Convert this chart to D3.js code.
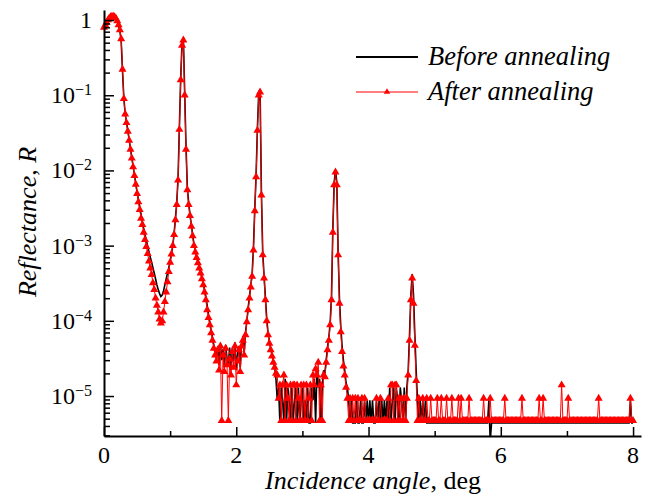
<!DOCTYPE html>
<html>
<head>
<meta charset="utf-8">
<script src="https://cdn.jsdelivr.net/npm/d3@7"></script>
<style>
  body { margin: 0; background: #fff; }
  svg { font-family: "Liberation Serif", "Times New Roman", serif; }
</style>
</head>
<body>
<div id="chart"></div>
<script>
/* incidence angle grid, deg */
const angleStep = 0.02;

/* reflectance before annealing, one value per grid step (0 .. 8 deg) */
const beforeR = [
  1.0, 0.98, 1.0, 1.03, 1.06, 1.09, 1.1, 1.1, 1.08, 1.04,
  0.97, 0.86, 0.72, 0.52, 0.21, 0.092, 0.057, 0.044, 0.034, 0.026,
  0.0195, 0.015, 0.0115, 0.0088, 0.0068, 0.0052, 0.0041, 0.0033, 0.0026, 0.0021,
  1.7e-3, 1.4e-3, 1.18e-3, 9.8e-4, 8.3e-4, 7.0e-4, 6.0e-4, 5.1e-4, 4.3e-4, 3.6e-4,
  3.0e-4, 2.6e-4, 2.3e-4, 2.1e-4, 2.2e-4, 2.5e-4, 3.0e-4, 3.6e-4, 4.3e-4, 5.1e-4,
  6.2e-4, 7.8e-4, 1.0e-3, 1.45e-3, 2.3e-3, 3.7e-3, 8.0e-3, 0.038, 0.17, 0.5,
  0.58, 0.11, 0.021, 6.0e-3, 3.7e-3, 2.6e-3, 1.9e-3, 1.4e-3, 1.05e-3, 8.6e-4,
  7.2e-4, 6.1e-4, 5.2e-4, 4.5e-4, 3.8e-4, 3.2e-4, 2.6e-4, 2.1e-4, 1.6e-4, 1.2e-4,
  9.5e-5, 7.5e-5, 6.0e-5, 4.8e-5, 3.8e-5, 3.3e-5, 4.5e-5, 2.6e-5, 5.0e-5, 3.0e-5,
  4.2e-5, 2.4e-5, 4.8e-5, 3.2e-5, 2.6e-5, 4.4e-5, 2.2e-5, 4.0e-5, 2.9e-5, 5.2e-5,
  2.2e-5, 3.6e-5, 4.6e-5, 2.4e-5, 5.0e-5, 6.0e-5, 3.8e-5, 7.0e-5, 1.0e-4, 1.5e-4,
  2.1e-4, 3.0e-4, 4.2e-4, 9.5e-4, 3.1e-3, 8.8e-3, 0.037, 0.11, 0.12, 5.2e-3,
  8.2e-4, 4.0e-4, 2.1e-4, 1.1e-4, 7.0e-5, 5.4e-5, 4.4e-5, 3.6e-5, 3.0e-5, 2.5e-5,
  1.7e-5, 8.8e-6, 1.3e-5, 4.4e-6, 1.3e-5, 8.8e-6, 4.4e-6, 1.7e-5, 4.4e-6, 1.3e-5,
  8.8e-6, 4.4e-6, 1.3e-5, 4.4e-6, 8.8e-6, 1.3e-5, 4.4e-6, 1.3e-5, 4.4e-6, 8.8e-6,
  1.3e-5, 4.4e-6, 8.8e-6, 4.4e-6, 1.3e-5, 4.4e-6, 4.4e-6, 1.3e-5, 8.8e-6, 1.7e-5,
  4.4e-6, 2.2e-5, 1.3e-5, 1.7e-5, 4.4e-6, 1.3e-5, 2.2e-5, 2.0e-5, 3.0e-5, 4.4e-5,
  6.0e-5, 9.5e-5, 2.1e-4, 1.6e-3, 6.8e-3, 0.0102, 7.0e-3, 8.5e-4, 2.0e-4, 8.5e-5,
  4.6e-5, 3.0e-5, 2.2e-5, 1.5e-5, 1.3e-5, 8.8e-6, 4.4e-6, 8.8e-6, 4.4e-6, 4.4e-6,
  4.4e-6, 8.8e-6, 4.4e-6, 4.4e-6, 8.8e-6, 4.4e-6, 4.4e-6, 8.8e-6, 4.4e-6, 8.8e-6,
  4.4e-6, 8.8e-6, 4.4e-6, 8.8e-6, 4.4e-6, 4.4e-6, 8.8e-6, 4.4e-6, 8.8e-6, 4.4e-6,
  8.8e-6, 4.4e-6, 8.8e-6, 4.4e-6, 8.8e-6, 4.4e-6, 1.3e-5, 4.4e-6, 8.8e-6, 1.3e-5,
  4.4e-6, 1.3e-5, 8.8e-6, 4.4e-6, 1.3e-5, 8.8e-6, 4.4e-6, 1.3e-5, 4.4e-6, 1.3e-5,
  2.2e-5, 6.5e-5, 2.2e-4, 4.2e-4, 2.2e-4, 6.5e-5, 2.2e-5, 8.8e-6, 4.4e-6, 8.8e-6,
  4.4e-6, 8.8e-6, 4.4e-6, 8.8e-6, 4.4e-6, 4.4e-6, 4.4e-6, 4.4e-6, 4.4e-6, 4.4e-6,
  4.4e-6, 4.4e-6, 4.4e-6, 4.4e-6, 4.4e-6, 4.4e-6, 4.4e-6, 4.4e-6, 4.4e-6, 4.4e-6,
  4.4e-6, 4.4e-6, 4.4e-6, 4.4e-6, 4.4e-6, 4.4e-6, 4.4e-6, 4.4e-6, 4.4e-6, 4.4e-6,
  4.4e-6, 4.4e-6, 4.4e-6, 4.4e-6, 4.4e-6, 4.4e-6, 4.4e-6, 4.4e-6, 4.4e-6, 4.4e-6,
  4.4e-6, 4.4e-6, 4.4e-6, 4.4e-6, 4.4e-6, 4.4e-6, 4.4e-6, 4.4e-6, 4.4e-6, 4.4e-6,
  4.4e-6, 8.8e-6, 2.5e-6, 4.4e-6, 4.4e-6, 4.4e-6, 4.4e-6, 4.4e-6, 4.4e-6, 4.4e-6,
  4.4e-6, 4.4e-6, 4.4e-6, 4.4e-6, 4.4e-6, 4.4e-6, 4.4e-6, 4.4e-6, 4.4e-6, 4.4e-6,
  4.4e-6, 4.4e-6, 4.4e-6, 4.4e-6, 4.4e-6, 4.4e-6, 4.4e-6, 4.4e-6, 4.4e-6, 4.4e-6,
  4.4e-6, 4.4e-6, 4.4e-6, 4.4e-6, 4.4e-6, 4.4e-6, 4.4e-6, 4.4e-6, 4.4e-6, 4.4e-6,
  4.4e-6, 4.4e-6, 4.4e-6, 4.4e-6, 4.4e-6, 4.4e-6, 4.4e-6, 4.4e-6, 4.4e-6, 4.4e-6,
  4.4e-6, 4.4e-6, 4.4e-6, 4.4e-6, 4.4e-6, 4.4e-6, 4.4e-6, 4.4e-6, 4.4e-6, 4.4e-6,
  4.4e-6, 4.4e-6, 4.4e-6, 4.4e-6, 4.4e-6, 4.4e-6, 4.4e-6, 4.4e-6, 4.4e-6, 4.4e-6,
  4.4e-6, 4.4e-6, 4.4e-6, 4.4e-6, 4.4e-6, 4.4e-6, 4.4e-6, 4.4e-6, 4.4e-6, 4.4e-6,
  4.4e-6, 4.4e-6, 4.4e-6, 4.4e-6, 4.4e-6, 4.4e-6, 4.4e-6, 4.4e-6, 4.4e-6, 4.4e-6,
  4.4e-6, 4.4e-6, 4.4e-6, 4.4e-6, 4.4e-6, 4.4e-6, 4.4e-6, 4.4e-6, 4.4e-6, 4.4e-6,
  4.4e-6, 4.4e-6, 4.4e-6, 4.4e-6, 4.4e-6, 4.4e-6, 4.4e-6, 4.4e-6, 8.8e-6, 4.4e-6,
  4.4e-6
];

/* reflectance after annealing, same grid */
const afterR = [
  0.8, 0.86, 0.93, 1.0, 1.06, 1.1, 1.12, 1.12, 1.1, 1.05,
  0.97, 0.86, 0.74, 0.56, 0.22, 0.09, 0.056, 0.043, 0.033, 0.025,
  0.019, 0.0145, 0.0111, 0.0085, 0.0065, 0.0049, 0.0038, 0.003, 0.0023, 0.0019,
  1.5e-3, 1.2e-3, 9.7e-4, 7.8e-4, 6.2e-4, 5.0e-4, 4.1e-4, 3.2e-4, 2.6e-4, 2.0e-4,
  1.6e-4, 1.3e-4, 1.05e-4, 9.3e-5, 1.0e-4, 1.3e-4, 1.8e-4, 2.4e-4, 3.3e-4, 4.5e-4,
  6.0e-4, 7.7e-4, 1.0e-3, 1.4e-3, 2.2e-3, 3.5e-3, 7.4e-3, 0.035, 0.16, 0.46,
  0.54, 0.1, 0.019, 5.5e-3, 3.5e-3, 2.5e-3, 1.8e-3, 1.35e-3, 1.0e-3, 8.2e-4,
  6.9e-4, 5.9e-4, 5.0e-4, 4.3e-4, 3.6e-4, 3.0e-4, 2.4e-4, 1.9e-4, 1.4e-4, 1.1e-4,
  8.8e-5, 6.9e-5, 5.5e-5, 4.3e-5, 3.5e-5, 2.9e-5, 4.1e-5, 2.2e-5, 4.6e-5, 4.7e-6,
  3.5e-5, 2.1e-5, 4.3e-5, 2.6e-5, 4.7e-6, 3.1e-5, 1.9e-5, 3.9e-5, 2.4e-5, 4.6e-5,
  1.4e-5, 2.9e-5, 4.1e-5, 2.1e-5, 4.6e-5, 5.5e-5, 3.5e-5, 6.5e-5, 9.7e-5, 1.4e-4,
  2.0e-4, 2.8e-4, 3.9e-4, 8.7e-4, 2.9e-3, 8.2e-3, 0.034, 0.1, 0.11, 4.7e-3,
  7.5e-4, 3.7e-4, 1.9e-4, 1.0e-4, 6.5e-5, 5.0e-5, 4.1e-5, 3.4e-5, 2.8e-5, 2.4e-5,
  2.0e-5, 1.9e-5, 9.3e-6, 1.4e-5, 4.7e-6, 1.4e-5, 1.9e-5, 4.7e-6, 1.4e-5, 9.3e-6,
  4.7e-6, 1.4e-5, 4.7e-6, 1.4e-5, 1.4e-5, 4.7e-6, 1.4e-5, 9.3e-6, 4.7e-6, 1.4e-5,
  4.7e-6, 1.4e-5, 4.7e-6, 1.4e-5, 4.7e-6, 9.3e-6, 1.4e-5, 4.7e-6, 1.9e-5, 1.4e-5,
  2.3e-5, 1.9e-5, 2.8e-5, 4.7e-6, 1.4e-5, 4.7e-6, 1.9e-5, 1.8e-5, 2.8e-5, 4.1e-5,
  5.5e-5, 8.8e-5, 1.9e-4, 1.5e-3, 6.4e-3, 9.5e-3, 6.4e-3, 7.5e-4, 1.7e-4, 7.1e-5,
  3.9e-5, 2.5e-5, 1.9e-5, 1.3e-5, 9.3e-6, 4.7e-6, 9.3e-6, 4.7e-6, 9.3e-6, 4.7e-6,
  9.3e-6, 4.7e-6, 9.3e-6, 4.7e-6, 4.7e-6, 9.3e-6, 4.7e-6, 9.3e-6, 4.7e-6, 4.7e-6,
  4.7e-6, 4.7e-6, 4.7e-6, 4.7e-6, 4.7e-6, 4.7e-6, 9.3e-6, 4.7e-6, 4.7e-6, 9.3e-6,
  4.7e-6, 4.7e-6, 4.7e-6, 4.7e-6, 4.7e-6, 9.3e-6, 4.7e-6, 1.4e-5, 1.4e-5, 4.7e-6,
  1.4e-5, 1.4e-5, 4.7e-6, 9.3e-6, 4.7e-6, 9.3e-6, 4.7e-6, 9.3e-6, 4.7e-6, 9.3e-6,
  1.9e-5, 5.5e-5, 1.9e-4, 3.7e-4, 1.7e-4, 4.7e-5, 1.6e-5, 4.7e-6, 9.3e-6, 4.7e-6,
  4.7e-6, 9.3e-6, 4.7e-6, 4.7e-6, 9.3e-6, 4.7e-6, 4.7e-6, 9.3e-6, 4.7e-6, 4.7e-6,
  4.7e-6, 4.7e-6, 9.3e-6, 4.7e-6, 4.7e-6, 9.3e-6, 4.7e-6, 4.7e-6, 4.7e-6, 9.3e-6,
  4.7e-6, 4.7e-6, 4.7e-6, 9.3e-6, 4.7e-6, 4.7e-6, 4.7e-6, 4.7e-6, 9.3e-6, 4.7e-6,
  9.3e-6, 4.7e-6, 4.7e-6, 4.7e-6, 4.7e-6, 4.7e-6, 9.3e-6, 4.7e-6, 4.7e-6, 4.7e-6,
  4.7e-6, 4.7e-6, 4.7e-6, 4.7e-6, 4.7e-6, 4.7e-6, 4.7e-6, 9.3e-6, 4.7e-6, 4.7e-6,
  4.7e-6, 4.7e-6, 9.3e-6, 4.7e-6, 4.7e-6, 4.7e-6, 4.7e-6, 4.7e-6, 4.7e-6, 4.7e-6,
  4.7e-6, 4.7e-6, 4.7e-6, 9.3e-6, 4.7e-6, 4.7e-6, 4.7e-6, 4.7e-6, 4.7e-6, 4.7e-6,
  4.7e-6, 4.7e-6, 4.7e-6, 4.7e-6, 4.7e-6, 4.7e-6, 9.3e-6, 4.7e-6, 4.7e-6, 4.7e-6,
  4.7e-6, 4.7e-6, 4.7e-6, 4.7e-6, 4.7e-6, 4.7e-6, 4.7e-6, 4.7e-6, 4.7e-6, 9.3e-6,
  4.7e-6, 4.7e-6, 9.3e-6, 4.7e-6, 4.7e-6, 4.7e-6, 4.7e-6, 4.7e-6, 4.7e-6, 4.7e-6,
  4.7e-6, 4.7e-6, 4.7e-6, 4.7e-6, 4.7e-6, 4.7e-6, 1.4e-5, 4.7e-6, 4.7e-6, 4.7e-6,
  4.7e-6, 9.3e-6, 4.7e-6, 4.7e-6, 4.7e-6, 4.7e-6, 4.7e-6, 4.7e-6, 4.7e-6, 4.7e-6,
  4.7e-6, 4.7e-6, 4.7e-6, 4.7e-6, 4.7e-6, 4.7e-6, 4.7e-6, 4.7e-6, 4.7e-6, 4.7e-6,
  4.7e-6, 4.7e-6, 4.7e-6, 4.7e-6, 9.3e-6, 4.7e-6, 4.7e-6, 4.7e-6, 4.7e-6, 4.7e-6,
  4.7e-6, 4.7e-6, 4.7e-6, 4.7e-6, 4.7e-6, 4.7e-6, 4.7e-6, 4.7e-6, 4.7e-6, 4.7e-6,
  4.7e-6, 4.7e-6, 4.7e-6, 4.7e-6, 4.7e-6, 4.7e-6, 4.7e-6, 4.7e-6, 9.3e-6, 4.7e-6,
  4.7e-6
];

const seriesNames = ["Before annealing", "After annealing"];
const xTicks = [0, 2, 4, 6, 8];
const xMinorTicks = [1, 3, 5, 7];
const yTicks = [1, 1e-1, 1e-2, 1e-3, 1e-4, 1e-5];
const yTickExp = ["", "\u22121", "\u22122", "\u22123", "\u22124", "\u22125"];

/* set the dimensions and margins of the graph */
var margin = { top: 10, right: 12, bottom: 63, left: 104 },
    width = 653 - margin.left - margin.right,
    height = 499 - margin.top - margin.bottom;

var root = d3.select("#chart")
    .append("svg")
    .attr("width", width + margin.left + margin.right)
    .attr("height", height + margin.top + margin.bottom);

var svg = root.append("g")
    .attr("transform", "translate(" + margin.left + "," + margin.top + ")");

var x = d3.scaleLinear().domain([0, 8.12]).range([0, width]);
var y = d3.scaleLog().domain([2.94e-6, 1.36]).range([height, 0]);

/* join the grid with the values */
var before = beforeR.map(function(r, i) { return { angle: i * angleStep, r: r }; });
var after = afterR.map(function(r, i) { return { angle: i * angleStep, r: r }; });

svg.append("clipPath")
    .attr("id", "plot-clip")
    .append("rect")
    .attr("width", width)
    .attr("height", height);

var line = d3.line()
    .x(function(d) { return x(d.angle); })
    .y(function(d) { return y(d.r); });

svg.append("path")
    .datum(before)
    .attr("clip-path", "url(#plot-clip)")
    .attr("fill", "none")
    .attr("stroke", "#000")
    .attr("stroke-width", 1.6)
    .attr("d", line);

svg.append("path")
    .datum(after)
    .attr("clip-path", "url(#plot-clip)")
    .attr("fill", "none")
    .attr("stroke", "#ff0000")
    .attr("stroke-width", 1)
    .attr("d", line);

var tri = d3.symbol(d3.symbolTriangle, 28);

svg.selectAll(".marker")
    .data(after)
    .enter()
    .append("path")
    .attr("class", "marker")
    .attr("d", tri)
    .attr("fill", "#ff0000")
    .attr("transform", function(d) { return "translate(" + x(d.angle) + "," + y(d.r) + ")"; });

/* minor y ticks at 2..9 of each decade */
var yMinor = [];
for (var k = -6; k <= 0; k++) {
    for (var m = 2; m <= 9; m++) {
        var v = m * Math.pow(10, k);
        if (v > y.domain()[0] && v < y.domain()[1]) yMinor.push(v);
    }
}

/* axes: ticks inside, no labels from d3 */
svg.append("g")
    .attr("class", "axis")
    .call(d3.axisLeft(y).tickValues(yMinor).tickSize(-6).tickSizeOuter(0).tickFormat(""))
    .select(".domain").remove();

svg.append("g")
    .attr("class", "axis")
    .call(d3.axisLeft(y).tickValues(yTicks).tickSize(-10).tickSizeOuter(0).tickFormat(""));

svg.append("g")
    .attr("class", "axis")
    .attr("transform", "translate(0," + height + ")")
    .call(d3.axisBottom(x).tickValues(xMinorTicks).tickSize(-5).tickSizeOuter(0).tickFormat(""))
    .select(".domain").remove();

svg.append("g")
    .attr("class", "axis")
    .attr("transform", "translate(0," + height + ")")
    .call(d3.axisBottom(x).tickValues(xTicks).tickSize(-9).tickSizeOuter(0).tickFormat(""));

svg.selectAll(".axis line").attr("stroke", "#000").attr("stroke-width", 1.5);
svg.selectAll(".axis .domain").attr("stroke", "#000").attr("stroke-width", 2);

/* tick labels */
svg.selectAll(".xlabel")
    .data(xTicks)
    .enter()
    .append("text")
    .attr("class", "xlabel")
    .attr("x", function(d) { return x(d); })
    .attr("y", height + 27)
    .attr("text-anchor", "middle")
    .style("font-size", "24px")
    .text(String);

var ylab = svg.selectAll(".ylabel")
    .data(yTicks)
    .enter()
    .append("text")
    .attr("class", "ylabel")
    .attr("x", -12)
    .attr("y", function(d) { return y(d) + 8; })
    .attr("text-anchor", "end")
    .style("font-size", "24px");

ylab.append("tspan")
    .text(function(d, i) { return i === 0 ? "1" : "10"; });
ylab.filter(function(d, i) { return i > 0; })
    .append("tspan")
    .attr("dy", -8)
    .style("font-size", "16px")
    .text(function(d) { return yTickExp[yTicks.indexOf(d)]; });

/* axis titles */
var xt = svg.append("text")
    .attr("x", 269)
    .attr("y", height + 53)
    .attr("text-anchor", "middle")
    .style("font-size", "26px");
xt.append("tspan").style("font-style", "italic").text("Incidence angle");
xt.append("tspan").text(", deg");

var yt = svg.append("text")
    .attr("transform", "translate(-68," + 212 + ") rotate(-90)")
    .attr("text-anchor", "middle")
    .style("font-size", "26px");
yt.append("tspan").style("font-style", "italic").text("Reflectance");
yt.append("tspan").text(", ");
yt.append("tspan").style("font-style", "italic").text("R");

/* legend */
var legend = svg.selectAll(".legend")
    .data(seriesNames)
    .enter()
    .append("g")
    .attr("class", "legend")
    .attr("transform", function(d, i) { return "translate(252," + (47 + i * 35) + ")"; });

legend.append("line")
    .attr("x1", 0)
    .attr("x2", 62)
    .attr("stroke", function(d, i) { return i === 0 ? "#000" : "#ff0000"; })
    .attr("stroke-width", function(d, i) { return i === 0 ? 2 : 1; });

legend.filter(function(d, i) { return i === 1; })
    .append("path")
    .attr("d", d3.symbol(d3.symbolTriangle, 18))
    .attr("fill", "#ff0000")
    .attr("transform", "translate(31,0)");

legend.append("text")
    .attr("x", 72)
    .attr("y", 8)
    .style("font-size", "26.5px")
    .style("font-style", "italic")
    .text(String);
</script>
</body>
</html>
